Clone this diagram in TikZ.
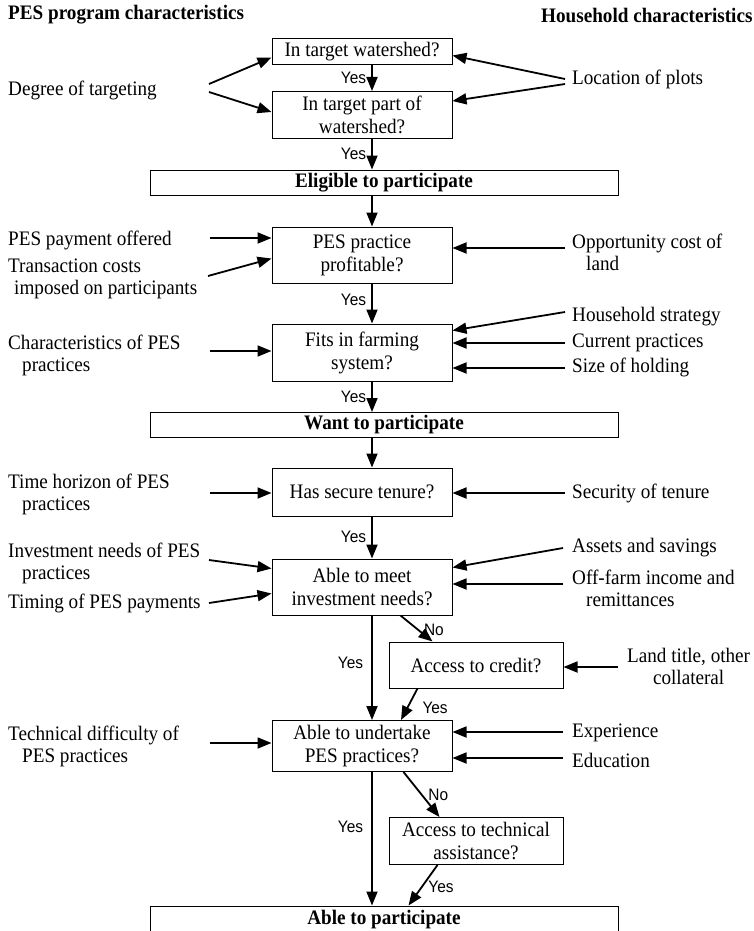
\documentclass[tikz,border=0pt]{standalone}
\usepackage{fontspec}
\setmainfont{Liberation Serif}[FakeStretch=0.93]
\newfontfamily\sansf{Liberation Sans}[FakeStretch=0.93]
\usetikzlibrary{arrows.meta,calc}
\begin{document}
\begin{tikzpicture}[x=1pt,y=-1pt,
  box/.style={draw,line width=1pt,rectangle,inner sep=0pt,minimum width=180pt,align=center,font=\fontsize{20.6}{23}\selectfont},
  wide/.style={draw,line width=1pt,rectangle,inner sep=0pt,minimum width=468pt,minimum height=25pt,font=\bfseries\fontsize{20.6}{23}\selectfont},
  lab/.style={inner sep=0pt,align=left,anchor=west,font=\fontsize{20.6}{22}\selectfont},
  clab/.style={inner sep=0pt,align=center,anchor=west,font=\fontsize{20.6}{22}\selectfont},
  head/.style={inner sep=0pt,anchor=west,font=\bfseries\fontsize{20.6}{22}\selectfont},
  arr/.style={line width=1.8pt,-{Triangle[length=14pt,width=11pt]}},
  yn/.style={inner sep=0pt,font=\sansf\fontsize{16.6}{18}\selectfont},
]
\useasboundingbox (0,0) rectangle (754,931);
\clip (0,0) rectangle (754,931);
\coordinate (mx) at (372,0);

% headers
\node[head] (h1) at (8,15) {PES program characteristics};
\node[head] (h2) at (541,15) {Household characteristics};

% central boxes
\node[box,minimum height=26pt] (b1) at (362,52) {In target watershed?};
\node[box,minimum height=47pt] (b2) at (362,115) {In target part of\\watershed?};
\node[wide] (elig) at (384,182.5) {Eligible to participate};
\node[box,minimum height=56pt] (prof) at (362,255) {PES practice\\profitable?};
\node[box,minimum height=57pt] (fits) at (362,352.5) {Fits in farming\\system?};
\node[wide] (want) at (384,425) {Want to participate};
\node[box,minimum height=48pt] (ten) at (362,492) {Has secure tenure?};
\node[box,minimum height=56pt] (inv) at (362,587) {Able to meet\\investment needs?};
\node[box,minimum height=46pt,minimum width=174pt] (cred) at (476,665) {Access to credit?};
\node[box,minimum height=51pt] (und) at (362,746) {Able to undertake\\PES practices?};
\node[box,minimum height=47pt,minimum width=174pt] (tech) at (476,841) {Access to technical\\assistance?};
\node[wide,minimum height=28pt] (able) at (384,920) {Able to participate};

% main flow
\draw[arr] (b1.south -| mx) -- node[yn,left=5pt]{Yes} (b2.north -| mx);
\draw[arr] (b2.south -| mx) -- node[yn,left=5pt]{Yes} (elig.north -| mx);
\draw[arr] (elig.south -| mx) -- (prof.north -| mx);
\draw[arr] (prof.south -| mx) -- node[yn,left=5pt,pos=0.4]{Yes} (fits.north -| mx);
\draw[arr] (fits.south -| mx) -- node[yn,left=5pt]{Yes} (want.north -| mx);
\draw[arr] (want.south -| mx) -- (ten.north -| mx);
\draw[arr] (ten.south -| mx) -- node[yn,left=5pt,pos=0.48]{Yes} (inv.north -| mx);
\draw[arr] (inv.south -| mx) -- node[yn,left=8pt,pos=0.45]{Yes} (und.north -| mx);
\draw[arr] (und.south -| mx) -- node[yn,left=8pt,pos=0.41]{Yes} (able.north -| mx);
\draw[arr] ($(inv.south west)+(129,0)$) -- node[yn,right=5pt,pos=0.55]{No} ($(cred.north west)+(44,0)$);
\draw[arr] ($(cred.south west)+(29,0)$) -- node[yn,right=14pt,pos=0.6]{Yes} ($(und.north)+(39,0)$);
\draw[arr] ($(und.south west)+(132,0)$) -- node[yn,right=6pt,pos=0.5]{No} ($(tech.north west)+(51,0)$);
\draw[arr] ($(tech.south west)+(49,0)$) -- node[yn,right=6pt,pos=0.55]{Yes} ($(able.north west)+(259,0)$);

% left labels
\node[lab] (dt) at (8,90) {Degree of targeting};
\coordinate (dt1) at (209,84);
\coordinate (dt2) at (209,92);
\draw[arr] (dt1) -- ($(b1.north west)+(0,19)$);
\draw[arr] (dt2) -- ($(b2.north west)+(0,21)$);

\node[lab] (pay) at (8,240) {PES payment offered};
\coordinate (pay1) at (210,238);
\draw[arr] (pay1) -- (prof.west |- pay1);
\node[lab] (tc) at (8,278.5) {Transaction costs\\\hspace*{6pt}imposed on participants};
\coordinate (tc1) at (208,276);
\draw[arr] (tc1) -- ($(prof.north west)+(0,32)$);

\node[lab] (cp) at (8,355) {Characteristics of PES\\\hspace*{14pt}practices};
\coordinate (cp1) at (210,351);
\draw[arr] (cp1) -- (fits.west |- cp1);

\node[lab] (th) at (8,494) {Time horizon of PES\\\hspace*{14pt}practices};
\coordinate (th1) at (210,493);
\draw[arr] (th1) -- (ten.west |- th1);

\node[lab] (in) at (8,563) {Investment needs of PES\\\hspace*{14pt}practices};
\coordinate (in1) at (209,560);
\draw[arr] (in1) -- ($(inv.north west)+(0,10)$);
\node[lab] (tm) at (8,603) {Timing of PES payments};
\coordinate (tm1) at (209,603);
\draw[arr] (tm1) -- ($(inv.north west)+(0,35)$);

\node[lab] (td) at (8,746) {Technical difficulty of\\\hspace*{14pt}PES practices};
\coordinate (td1) at (210,743);
\draw[arr] (td1) -- (und.west |- td1);

% right labels
\node[lab] (lp) at (572,79) {Location of plots};
\coordinate (lp1) at (565,79);
\coordinate (lp2) at (565,84);
\draw[arr] (lp1) -- ($(b1.north east)+(0,17)$);
\draw[arr] (lp2) -- ($(b2.north east)+(0,10)$);

\node[lab] (oc) at (572,252) {Opportunity cost of\\\hspace*{14pt}land};
\coordinate (oc1) at (565,248);
\draw[arr] (oc1) -- (prof.east |- oc1);

\node[lab] (hs) at (572,317) {Household strategy};
\coordinate (hs1) at (565,312);
\draw[arr] (hs1) -- ($(fits.north east)+(0,7)$);
\node[lab] (cu) at (572,343) {Current practices};
\coordinate (cu1) at (565,343);
\draw[arr] (cu1) -- (fits.east |- cu1);
\node[lab] (sh) at (572,367) {Size of holding};
\coordinate (sh1) at (565,368);
\draw[arr] (sh1) -- (fits.east |- sh1);

\node[lab] (st) at (572,493) {Security of tenure};
\coordinate (st1) at (565,493);
\draw[arr] (st1) -- (ten.east |- st1);

\node[lab] (as) at (572,548) {Assets and savings};
\coordinate (as1) at (563,548);
\draw[arr] (as1) -- ($(inv.north east)+(0,9)$);
\node[lab] (of) at (572,588) {Off-farm income and\\\hspace*{14pt}remittances};
\coordinate (of1) at (563,584);
\draw[arr] (of1) -- (inv.east |- of1);

\node[clab] (lt) at (627,666) {Land title, other\\collateral};
\coordinate (lt1) at (618,667);
\draw[arr] (lt1) -- (cred.east |- lt1);

\node[lab] (ex) at (572,733) {Experience};
\coordinate (ex1) at (563,732);
\draw[arr] (ex1) -- (und.east |- ex1);
\node[lab] (ed) at (572,760) {Education};
\coordinate (ed1) at (563,758);
\draw[arr] (ed1) -- (und.east |- ed1);
\end{tikzpicture}
\end{document}
